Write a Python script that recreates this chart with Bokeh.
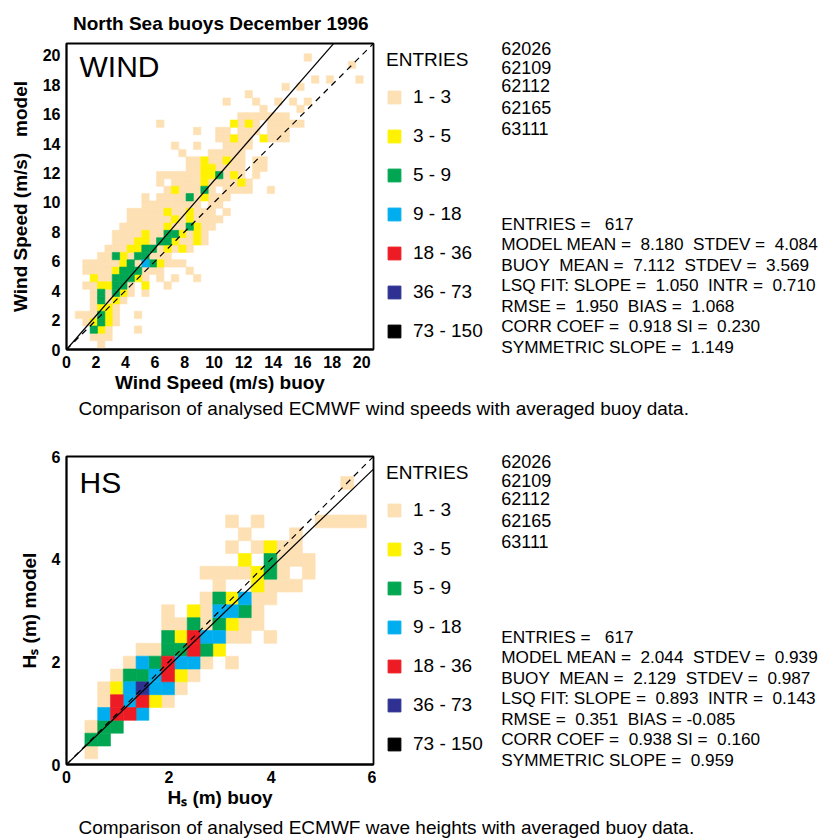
import numpy as np
from bokeh.plotting import figure
from bokeh.models import Range1d, Legend, LegendItem, FixedTicker, ColumnDataSource, Label
from bokeh.layouts import column, row
from bokeh.embed import file_html
from bokeh.resources import INLINE
from bokeh.core.properties import value

FONT = "Liberation Sans"
NB = "\u00a0"

# ------------------------------------------------------------------ data
chart_title = "North Sea buoys December 1996"
entry_labels = ["1 - 3", "3 - 5", "5 - 9", "9 - 18", "18 - 36", "36 - 73", "73 - 150"]
entry_bounds = [1, 3, 5, 9, 18, 36, 73, 150]
entry_colors = ["#fde0b4", "#fff200", "#00a651", "#00aeef", "#ed1c24", "#2e3192", "#000000"]
stations = ["62026", "62109", "62112", "62165", "63111"]

# wind panel
wind_ticks = [0, 2, 4, 6, 8, 10, 12, 14, 16, 18, 20]
wind_axis_max = 20.8
wind_bin_width = 0.5
wind_bin_start = 0.1
wind_symmetric_slope = 1.149
wind_stats = [
    "ENTRIES =   617",
    "MODEL MEAN =  8.180  STDEV =  4.084",
    "BUOY  MEAN =  7.112  STDEV =  3.569",
    "LSQ FIT: SLOPE =  1.050  INTR =  0.710",
    "RMSE =  1.950  BIAS =  1.068",
    "CORR COEF =  0.918 SI =  0.230",
    "SYMMETRIC SLOPE =  1.149",
]
# entry class per (buoy bin, model bin); row = model bin from bottom, column = buoy bin
# '.' empty, 1: 1-3, 2: 3-5, 3: 5-9, 4: 9-18, 5: 18-36, 6: 36-73, 7: 73-150
wind_rows = [
    "....1.....|..........|..........|..........|.",
    "...111....|..........|..........|..........|.",
    "...321...1|..........|..........|..........|.",
    "..12321...|..........|..........|..........|.",
    ".111321..1|..........|..........|..........|.",
    "...1221...|..........|..........|..........|.",
    "...13121..|..........|..........|..........|.",
    "...131321.|1.........|..........|..........|.",
    "..1122331.|2..1......|..........|..........|.",
    "...2113332|1.1.1..1..|..........|..........|.",
    "..11112333|111...1...|..........|..........|.",
    "..11111231|432111....|..........|..........|.",
    "....113213|3111......|..........|..........|.",
    ".....11122|3312121...|..........|..........|.",
    "......1112|213321121.|..........|..........|.",
    "......1111|211332121.|..........|..........|.",
    ".......111|1112113211|..........|..........|.",
    "........11|1111212111|1.........|..........|.",
    "........11|1112112111|.1........|..........|.",
    "..........|11111111.1|1.........|..........|.",
    "..........|1.11113121|11........|..........|.",
    "..........|...1211131|.1111..1..|..........|.",
    "..........|..1.111121|11121.....|..........|.",
    "..........|..11111122|3121.1....|..........|.",
    "..........|......1122|1111.11...|..........|.",
    "..........|......1121|1211.11...|..........|.",
    "..........|.....1...1|1111......|..........|.",
    "..........|....1..1..|.1111.....|..........|.",
    "..........|..........|11211.2111|..........|.",
    "..........|.......1..|11.111.111|..........|.",
    "..........|..1.......|..2121.111|11........|.",
    "..........|..........|...1111111|..........|.",
    "..........|..........|......1...|.1........|.",
    "..........|..........|.1...1..1.|1.1.......|.",
    "..........|..........|....1.....|..........|.",
    "..........|..........|.........1|.1........|.",
    "..........|..........|..........|...1.1...1|.",
    "..........|..........|..........|..........|.",
    "..........|..........|..........|........1.|.",
    "..........|..........|..........|..1.......|.",
]

# wave height panel
hs_ticks = [0, 2, 4, 6]
hs_axis_max = 6.0
hs_bin_width = 0.25
hs_bin_start = 0.11
hs_symmetric_slope = 0.959
hs_stats = [
    "ENTRIES =   617",
    "MODEL MEAN =  2.044  STDEV =  0.939",
    "BUOY  MEAN =  2.129  STDEV =  0.987",
    "LSQ FIT: SLOPE =  0.893  INTR =  0.143",
    "RMSE =  0.351  BIAS = -0.085",
    "CORR COEF =  0.938 SI =  0.160",
    "SYMMETRIC SLOPE =  0.959",
]
hs_rows = [
    ".1........|..........|....",
    ".33.......|..........|....",
    ".133......|..........|....",
    "..4554....|..........|....",
    "..154521..|..........|....",
    "..1246441.|..........|....",
    "...1334521|..........|....",
    "....143544|1.1.......|....",
    ".....11335|32........|....",
    ".......325|4411.1....|....",
    ".......113|13211.....|....",
    ".......1.2|14431.....|....",
    "..........|132411....|....",
    "..........|.1..2111..|....",
    "..........|1111231.1.|....",
    "..........|...2.3111.|....",
    "..........|..1.1211..|....",
    "..........|...1...1..|....",
    "..........|..1.1....1|111.",
    "..........|..........|....",
    "..........|..........|....",
    "..........|..........|.1..",
]

wind_caption = "Comparison of analysed ECMWF wind speeds with averaged buoy data."
hs_caption = "Comparison of analysed ECMWF wave heights with averaged buoy data."


# ------------------------------------------------------------------ helpers
def spaced(s):
    return s.replace("  ", " " + NB)


def no_frame_align(fig):
    try:
        fig.frame_align = False
    except Exception:
        pass


def cells(rows, start, width):
    left, bottom, cls = [], [], []
    for m, r in enumerate(rows):
        r = r.replace("|", "")
        for k, ch in enumerate(r):
            if ch != ".":
                left.append(start + k * width)
                bottom.append(start + m * width)
                cls.append(int(ch))
    return np.array(left), np.array(bottom), np.array(cls)


PW = 376          # heat-map figure width (frame 66..373)
TW = 820 - PW     # text / legend figure width


def heat_panel(rows, start, width, amax, ticks, slope, xlabel, ylabel, tag, tag_xy,
               height, top, bottom, title=None):
    p = figure(width=PW, height=height, x_range=Range1d(0, amax), y_range=Range1d(0, amax),
               output_backend="svg", toolbar_location=None,
               min_border_left=66, min_border_right=PW - 66 - 307,
               min_border_top=top, min_border_bottom=bottom,
               title=title)
    no_frame_align(p)
    p.grid.visible = False
    p.outline_line_color = "black"
    p.outline_line_width = 1.8

    left, bot, cls = cells(rows, start, width)
    for ci in range(7):
        sel = cls == ci + 1
        src = ColumnDataSource(dict(left=left[sel], right=left[sel] + width,
                                    bottom=bot[sel], top=bot[sel] + width))
        p.quad(left="left", right="right", bottom="bottom", top="top", source=src,
               fill_color=entry_colors[ci], line_color=entry_colors[ci], line_width=0.6)

    p.line([0, amax], [0, amax], line_color="black", line_width=1.2, line_dash="6 5")
    p.line([0, amax], [0, slope * amax], line_color="black", line_width=1.2)

    p.add_layout(Label(x=tag_xy[0], y=tag_xy[1], text=tag, text_font=FONT,
                       text_font_size="30px", text_baseline="middle", text_color="black"))

    for ax in (p.xaxis, p.yaxis):
        ax.ticker = FixedTicker(ticks=ticks)
        ax.major_tick_out = 0
        ax.major_tick_in = 0
        ax.minor_tick_out = 0
        ax.minor_tick_in = 0
        ax.axis_line_width = 1.8
        ax.major_label_text_font = FONT
        ax.major_label_text_font_style = "bold"
        ax.major_label_text_font_size = "16px"
        ax.major_label_text_color = "black"
        ax.axis_label_text_font = FONT
        ax.axis_label_text_font_style = "bold"
        ax.axis_label_text_font_size = "19px"
        ax.axis_label_text_color = "black"
    p.xaxis.major_label_standoff = 6
    p.yaxis.major_label_standoff = 6
    p.xaxis.axis_label = xlabel
    p.yaxis.axis_label = ylabel
    p.xaxis.axis_label_standoff = 1
    p.yaxis.axis_label_standoff = 9

    if title is not None:
        p.title.text_font = FONT
        p.title.text_font_size = "19px"
        p.title.text_font_style = "bold"
        p.title.text_color = "black"
        p.title.align = "left"
        p.title.offset = 6.5
        p.title.standoff = 20
    return p


def text_panel(height, frame_top, stats):
    # frame_top: canvas y of the heat-map frame top in the same row
    ftop = int(round(frame_top - 3.6))
    t = figure(width=TW, height=height, x_range=Range1d(0, TW), y_range=Range1d(height, ftop),
               output_backend="svg", toolbar_location=None, title=None,
               min_border_left=0, min_border_right=0, min_border_bottom=0,
               min_border_top=ftop, x_axis_type=None, y_axis_type=None)
    no_frame_align(t)
    t.outline_line_color = None

    # colour key of the entry classes (hidden proxies holding each class range)
    rends = []
    for ci in range(7):
        src = ColumnDataSource(dict(left=[entry_bounds[ci]], right=[entry_bounds[ci + 1]],
                                    bottom=[0], top=[0]))
        rends.append(t.quad(left="left", right="right", bottom="bottom", top="top", source=src,
                            fill_color=entry_colors[ci], line_color=entry_colors[ci],
                            visible=False))
    legend = Legend(items=[LegendItem(label=entry_labels[i], renderers=[rends[i]]) for i in range(7)],
                    title="ENTRIES", location="top_left", margin=10, padding=0,
                    title_text_font=FONT, title_text_font_size="19px",
                    title_text_font_style="normal", title_text_color="black", title_standoff=15,
                    label_text_font=FONT, label_text_font_size="19px", label_text_color="black",
                    label_standoff=11, glyph_width=16, glyph_height=16, label_height=16,
                    spacing=17, border_line_color=None, background_fill_alpha=0)
    t.add_layout(legend)

    sx = 124.7
    st_off = [4.5, 24, 42, 63.5, 84.5]
    t.text(x=[sx] * len(stations), y=[frame_top + o for o in st_off], text=stations,
           text_font=value(FONT), text_font_size=value("18px"), text_baseline="middle",
           text_color="black")
    t.text(x=[sx] * len(stats), y=[frame_top + 180.3 + 20.45 * i for i in range(len(stats))],
           text=[spaced(s) for s in stats],
           text_font=value(FONT), text_font_size=value("17.2px"), text_baseline="middle",
           text_color="black")
    return t


def caption_panel(height, center, text):
    c = figure(width=820, height=height, x_range=Range1d(0, 820), y_range=Range1d(height, 0),
               output_backend="svg", toolbar_location=None, title=None,
               min_border_left=0, min_border_right=0, min_border_top=0, min_border_bottom=0,
               x_axis_type=None, y_axis_type=None)
    no_frame_align(c)
    c.outline_line_color = None
    c.text(x=[78], y=[center], text=[text], text_font=value(FONT),
           text_font_size=value("19px"), text_baseline="middle", text_color="black")
    return c


p1 = heat_panel(wind_rows, wind_bin_start, wind_bin_width, wind_axis_max, wind_ticks,
                wind_symmetric_slope, "Wind Speed (m/s) buoy",
                "Wind Speed (m/s)" + NB * 3 + "model", "WIND", (0.88, 19.26),
                395, 43, 45, title=chart_title)
t1 = text_panel(395, 43, wind_stats)
c1 = caption_panel(35, 13, wind_caption)

p2 = heat_panel(hs_rows, hs_bin_start, hs_bin_width, hs_axis_max, hs_ticks,
                hs_symmetric_slope, "H\u209b (m) buoy", "H\u209b (m) model", "HS",
                (0.254, 5.49), 380, 26, 46)
t2 = text_panel(380, 26, hs_stats)
c2 = caption_panel(28, 16.5, hs_caption)

layout = column(row(p1, t1), c1, row(p2, t2), c2)
open("out.html", "w").write(file_html(layout, INLINE))
